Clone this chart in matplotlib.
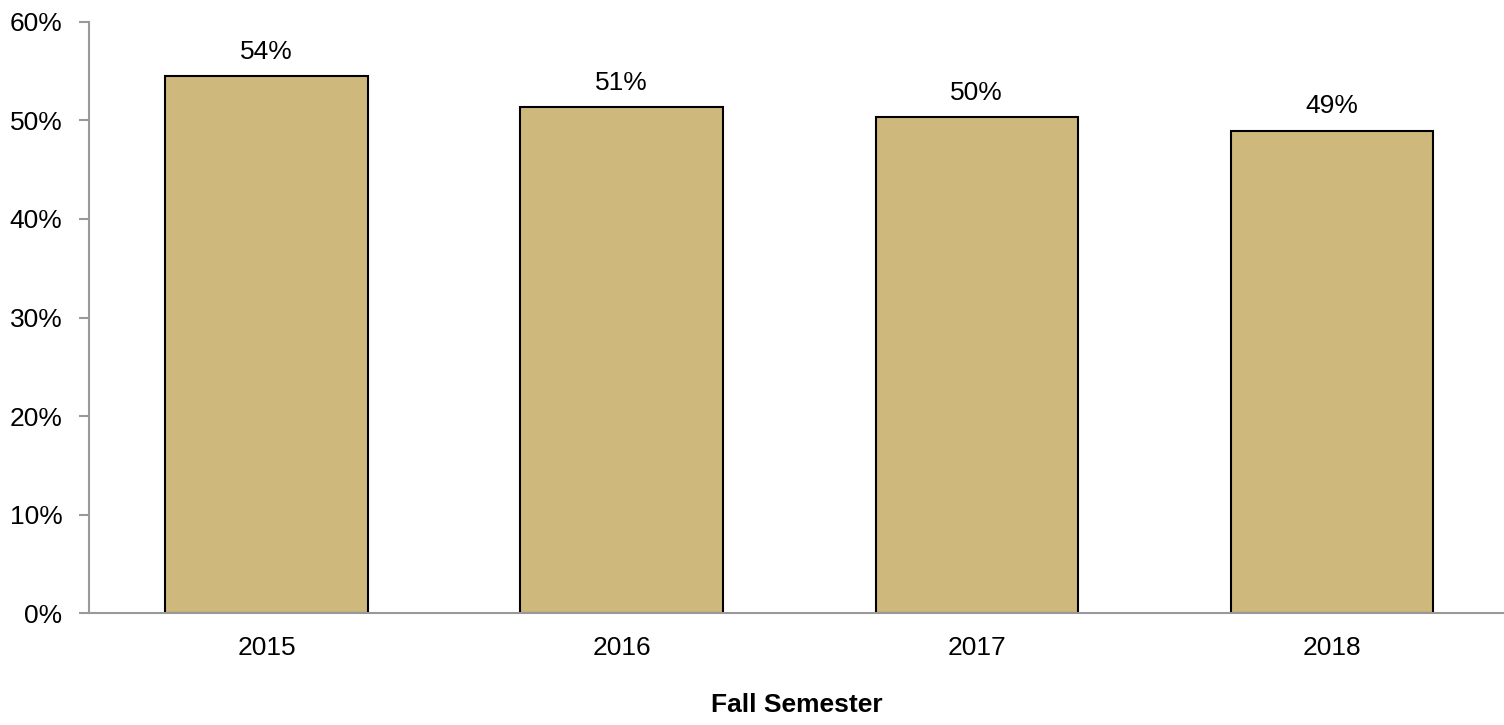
import matplotlib
matplotlib.use("Agg")
import matplotlib.pyplot as plt
from matplotlib.ticker import PercentFormatter

years = ["2015", "2016", "2017", "2018"]
rates = [54.45, 51.3, 50.3, 48.95]
labels = ["54%", "51%", "50%", "49%"]

plt.rcParams['font.family'] = ['Liberation Sans', 'DejaVu Sans']

fig = plt.figure(figsize=(15.04, 7.25), dpi=100)
ax = fig.add_axes([89 / 1504, 1 - 613.3 / 725, 1 - 89 / 1504, (613.3 - 21.7) / 725])

x = range(len(years))
bars = ax.bar(x, rates, width=0.57, color="#CFB87C", edgecolor="black", linewidth=1.5, zorder=2)

# value labels above bars
for b, lab in zip(bars, labels):
    ax.annotate(lab, (b.get_x() + b.get_width() / 2, b.get_height()),
                xytext=(0, 9), textcoords="offset points",
                ha="center", va="bottom", fontsize=19)

ax.set_xlim(-0.5, 3.485)
ax.set_ylim(0, 60)
ax.set_yticks(range(0, 61, 10))
ax.yaxis.set_major_formatter(PercentFormatter(decimals=0))
ax.set_xticks(list(x))
ax.set_xticklabels(years)

for s in ["top", "right"]:
    ax.spines[s].set_visible(False)
for s in ["left", "bottom"]:
    ax.spines[s].set_color("#999999")
    ax.spines[s].set_linewidth(1.5)

ax.tick_params(axis="y", length=7, width=1.5, color="#999999", labelsize=19, pad=12)
ax.tick_params(axis="x", length=0, labelsize=19, pad=16)

ax.set_xlabel("Fall Semester", fontsize=19, fontweight="bold", labelpad=24)

fig.savefig("out.png", dpi=100)
